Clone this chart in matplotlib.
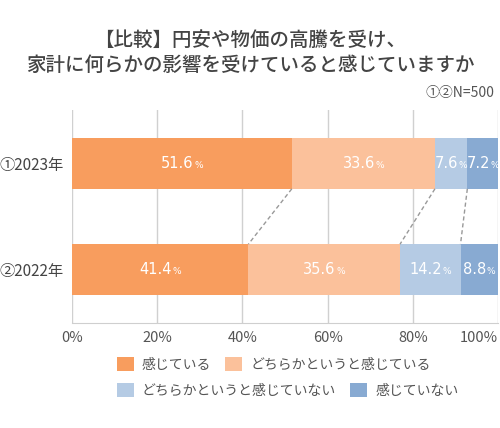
import matplotlib
matplotlib.use("Agg")
import matplotlib.pyplot as plt
from matplotlib.offsetbox import TextArea, HPacker, AnnotationBbox
import numpy as np

plt.rcParams['font.family'] = ['Noto Sans CJK JP', 'DejaVu Sans']

years = ['①2023年', '②2022年']
categories = ['感じている', 'どちらかというと感じている', 'どちらかというと感じていない', '感じていない']
values = {
    '感じている': [51.6, 41.4],
    'どちらかというと感じている': [33.6, 35.6],
    'どちらかというと感じていない': [7.6, 14.2],
    '感じていない': [7.2, 8.8],
}
colors = ['#F89D5E', '#FBC19B', '#B5CBE4', '#88AAD2']
ticks = [0, 20, 40, 60, 80, 100]
title = '【比較】円安や物価の高騰を受け、\n家計に何らかの影響を受けていると感じていますか'
note = '①②N=500'

fig = plt.figure(figsize=(5.0, 4.28), dpi=100)
ax = fig.add_axes([0.144, 0.2453, 0.852, 0.4977])

y = np.arange(len(years))
h = 0.48
left = np.zeros(len(years))
bars = []
for cat, col in zip(categories, colors):
    v = np.array(values[cat])
    b = ax.barh(y, v, left=left, height=h, color=col, edgecolor='none', zorder=3, label=cat)
    bars.append(b)
    for yi, (l, w) in enumerate(zip(left, v)):
        num = TextArea(f'{w:.1f}', textprops=dict(color='white', fontsize=10.5, family='DejaVu Sans'))
        pct = TextArea('%', textprops=dict(color='white', fontsize=6.5, family='DejaVu Sans'))
        pack = HPacker(children=[num, pct], align='baseline', pad=0, sep=0.5)
        ab = AnnotationBbox(pack, (l + w / 2, yi), frameon=False, box_alignment=(0.5, 0.5), zorder=5)
        ax.add_artist(ab)
    left = left + v

# dashed connectors between cumulative boundaries
cum = np.cumsum([values[c] for c in categories], axis=0)
for k in range(len(categories) - 1):
    ax.plot([cum[k][0], cum[k][1]], [0 + h / 2, 1 - h / 2], ls=(0, (3, 2)), color='#999999', lw=1.0, zorder=4)

ax.set_xlim(0, 100)
ax.set_ylim(1.5, -0.5)
ax.set_xticks(ticks)
ax.set_xticklabels([f'{t}%' for t in ticks], fontsize=10.5, color='#555555')
ax.get_xticklabels()[-1].set_ha('right')
ax.get_xticklabels()[-1].set_x(100.5)
ax.set_yticks(y)
ax.set_yticklabels(years, fontsize=11, color='#444444')
ax.tick_params(axis='both', length=0)
ax.tick_params(axis='x', pad=6)
ax.tick_params(axis='y', pad=6)
ax.grid(axis='x', color='#D0D0D0', lw=1, zorder=0)
for s in ['top', 'right', 'left']:
    ax.spines[s].set_visible(False)
ax.spines['bottom'].set_color('#CFCFCF')

fig.text(0.5, 0.876, title, ha='center', va='center', fontsize=14, color='#444444',
         linespacing=1.4, fontweight='medium')
fig.text(0.988, 0.782, note, ha='right', va='center', fontsize=10, color='#555555')

leg_kw = dict(frameon=False, fontsize=10, handlelength=1.2, handleheight=1.2, handletextpad=0.6,
              columnspacing=1.0, borderaxespad=0, borderpad=0)
l1 = fig.legend([bars[0], bars[1]], categories[:2], ncol=2, loc='center left',
                bbox_to_anchor=(0.234, 0.148), **leg_kw)
l2 = fig.legend([bars[2], bars[3]], categories[2:], ncol=2, loc='center left',
                bbox_to_anchor=(0.234, 0.088), **leg_kw)
for lg in (l1, l2):
    for t in lg.get_texts():
        t.set_color('#555555')

fig.savefig('out.png', dpi=100)
